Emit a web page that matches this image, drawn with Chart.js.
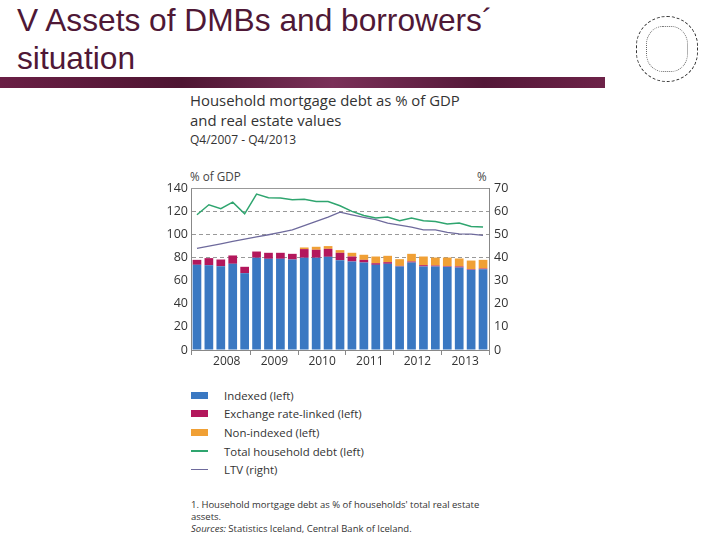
<!DOCTYPE html>
<html>
<head>
<meta charset="utf-8">
<script src="https://cdn.jsdelivr.net/npm/chart.js@4"></script>
<style>
  body { margin: 0; width: 720px; height: 540px; background: #fff; position: relative; overflow: hidden; }
  .slide-title { position: absolute; left: 17px; top: 1px; font-family: "Liberation Sans", Arial, sans-serif; font-size: 31.7px; line-height: 38px; color: #4f1836; }
  .band { position: absolute; left: 0; top: 77px; width: 605px; height: 11px;
          background: linear-gradient(90deg, #6a1f45 0%, #4e1532 30%, #7a3058 55%, #541838 80%, #6d2248 100%); }
  .logo { position: absolute; left: 636px; top: 16px; width: 60px; height: 64px; border: 1px dashed #333; border-radius: 50% / 45%; }
  .logo:after { content: ""; position: absolute; left: 9px; top: 9px; width: 40px; height: 44px; border: 1px dotted #666; border-radius: 40%; }
  .ctitle { position: absolute; left: 190px; font-family: "Open Sans", sans-serif; color: #333; }
  #chartWrap { position: absolute; left: 150px; top: 170px; width: 370px; height: 200px; }
  .axlab { position: absolute; font-family: "Open Sans", sans-serif; font-size: 11.7px; color: #444; }
  #legend { position: absolute; left: 191px; top: 386px; font-family: "Open Sans", sans-serif; font-size: 11.4px; color: #333; }
  #legend .row { height: 18.6px; display: flex; align-items: center; }
  #legend .sw { width: 17px; margin-right: 16px; }
  .note { position: absolute; left: 191px; font-family: "Open Sans", sans-serif; font-size: 9.5px; color: #333; line-height: 12px; }
</style>
</head>
<body>
<div class="slide-title">V Assets of DMBs and borrowers´<br>situation</div>
<div class="band"></div>
<div class="logo"></div>

<div class="ctitle" style="top:90px;font-size:14.9px;">Household mortgage debt as % of GDP</div>
<div class="ctitle" style="top:110px;font-size:14.9px;">and real estate values</div>
<div class="ctitle" style="top:131px;font-size:12px;">Q4/2007 - Q4/2013</div>
<div class="axlab" style="left:190px;top:168px;">% of GDP</div>
<div class="axlab" style="left:477px;top:168px;">%</div>

<div id="chartWrap"><canvas id="chart" width="370" height="200"></canvas></div>
<div id="legend"></div>
<div class="note" style="top:499px;">1. Household mortgage debt as % of households' total real estate<br>assets.</div>
<div class="note" style="top:523px;"><i>Sources:</i> Statistics Iceland, Central Bank of Iceland.</div>

<script>
// quarters Q4/2007 .. Q4/2013
const quarters = ['Q4 2007',
  'Q1 2008','Q2 2008','Q3 2008','Q4 2008',
  'Q1 2009','Q2 2009','Q3 2009','Q4 2009',
  'Q1 2010','Q2 2010','Q3 2010','Q4 2010',
  'Q1 2011','Q2 2011','Q3 2011','Q4 2011',
  'Q1 2012','Q2 2012','Q3 2012','Q4 2012',
  'Q1 2013','Q2 2013','Q3 2013','Q4 2013'];
const years = ['2008','2009','2010','2011','2012','2013'];

const indexed = [73.6, 73.3, 72.4, 74.5, 66.4, 79.7, 78.8, 78.8, 78.2, 79.7, 79.7, 80.5, 77.6,
  76.5, 75.6, 73.6, 74.5, 72.2, 75.6, 72.2, 72.2, 71.9, 71.3, 69.3, 69.8];
const exchangeLinked = [4.3, 6.1, 5.8, 7.2, 5.5, 5.4, 5.2, 5.2, 4.9, 7.5, 6.9, 6.9, 6.4,
  4.3, 2.3, 1.4, 1.4, 0.5, 0.9, 1.1, 0.8, 0.5, 0.9, 0.5, 0.6];
const nonIndexed = [0, 0, 0, 0, 0, 0, 0, 0, 0, 1.4, 2.6, 2.4, 2.3,
  3.2, 4.4, 5.8, 5.5, 5.8, 6.6, 7.5, 6.9, 7.5, 6.9, 7.5, 7.5];
const totalDebt = [116.9, 125.5, 122.1, 127.8, 117.7, 134.8, 131.6, 131.3, 129.9, 130.2, 128.4, 128.4, 124.7,
  119.8, 116.3, 114.0, 114.9, 111.7, 114.0, 111.7, 111.1, 108.8, 109.7, 106.8, 106.2];
const ltv = [43.9, 44.9, 45.9, 46.9, 47.9, 48.9, 49.8, 50.8, 51.9, 53.7, 55.6, 57.4, 59.6,
  58.4, 57.3, 56.3, 54.8, 54.0, 53.1, 51.9, 51.9, 50.8, 50.2, 50.1, 49.5];

const leftTicks = [0, 20, 40, 60, 80, 100, 120, 140];
const rightTicks = [0, 10, 20, 30, 40, 50, 60, 70];

const seriesNames = ['Indexed (left)', 'Exchange rate-linked (left)', 'Non-indexed (left)',
  'Total household debt (left)', 'LTV (right)'];
const seriesColors = ['#3a78c2', '#b3175c', '#f0a035', '#2fa56f', '#6e6a9c'];

// year labels sit in the middle of each year's four quarters, ticks at year boundaries
const yearCenters = years.map((y, i) => 3 + i * 4);
const yearBounds = [0, 5, 9, 13, 17, 21, 25];

const topLine = {
  id: 'topLine',
  beforeDatasetsDraw(chart) {
    const a = chart.chartArea, c = chart.ctx;
    c.save();
    c.strokeStyle = '#999';
    c.lineWidth = 1;
    c.beginPath();
    c.moveTo(a.left, Math.round(a.top) + 0.5);
    c.lineTo(a.right, Math.round(a.top) + 0.5);
    c.stroke();
    c.restore();
  }
};

const tickFont = { family: 'Open Sans', size: 12.5 };

new Chart(document.getElementById('chart'), {
  type: 'bar',
  data: {
    labels: quarters,
    datasets: [
      { label: seriesNames[3], type: 'line', data: totalDebt, borderColor: seriesColors[3],
        borderWidth: 1.5, pointRadius: 0, yAxisID: 'y', order: 0 },
      { label: seriesNames[4], type: 'line', data: ltv, borderColor: seriesColors[4],
        borderWidth: 1.3, pointRadius: 0, yAxisID: 'y2', order: 0 },
      { label: seriesNames[0], data: indexed, backgroundColor: seriesColors[0], stack: 's', order: 1 },
      { label: seriesNames[1], data: exchangeLinked, backgroundColor: seriesColors[1], stack: 's', order: 1 },
      { label: seriesNames[2], data: nonIndexed, backgroundColor: seriesColors[2], stack: 's', order: 1 }
    ]
  },
  options: {
    responsive: false,
    animation: false,
    layout: { padding: { top: 18 } },
    datasets: { bar: { categoryPercentage: 1, barPercentage: 0.73 } },
    plugins: { legend: { display: false }, tooltip: { enabled: false } },
    scales: {
      x: { display: false, stacked: true },
      xYears: {
        type: 'linear', position: 'bottom', min: 0, max: 25, offset: false,
        afterBuildTicks: axis => {
          axis.ticks = yearBounds.concat(yearCenters).sort((a, b) => a - b).map(v => ({ value: v }));
        },
        afterFit: s => { s.height = 20; },
        ticks: {
          autoSkip: false, maxRotation: 0, padding: -1, color: '#333', font: { family: 'Open Sans', size: 12 },
          callback: v => { const i = yearCenters.indexOf(v); return i >= 0 ? years[i] : ''; }
        },
        grid: {
          offset: false, drawOnChartArea: false, tickLength: 5,
          color: ctx => (ctx.tick && yearBounds.includes(ctx.tick.value)) ? '#888' : 'rgba(0,0,0,0)'
        },
        border: { color: '#888' }
      },
      y: {
        stacked: true, min: 0, max: 140,
        afterBuildTicks: axis => { axis.ticks = leftTicks.map(v => ({ value: v })); },
        afterFit: s => { s.width = 41; },
        ticks: { color: '#333', font: tickFont, padding: 3 },
        grid: {
          drawTicks: false,
          color: ctx => (ctx.tick && ctx.tick.value >= 80 && ctx.tick.value < 140) ? '#999' : 'rgba(0,0,0,0)'
        },
        border: { color: '#888', dash: [4, 3] }
      },
      y2: {
        position: 'right', min: 0, max: 70,
        afterBuildTicks: axis => { axis.ticks = rightTicks.map(v => ({ value: v })); },
        afterFit: s => { s.width = 31; },
        ticks: { color: '#333', font: tickFont, padding: 5 },
        grid: { drawOnChartArea: false, drawTicks: false },
        border: { color: '#888' }
      }
    }
  },
  plugins: [topLine]
});

// legend list built from the series names and colours
const legendOrder = [0, 1, 2, 3, 4];
document.getElementById('legend').innerHTML = legendOrder.map(i => {
  const h = i < 3 ? 7 : 1.5;
  return `<div class="row"><span class="sw" style="height:${h}px;background:${seriesColors[i]}"></span>${seriesNames[i]}</div>`;
}).join('');
</script>
</body>
</html>
